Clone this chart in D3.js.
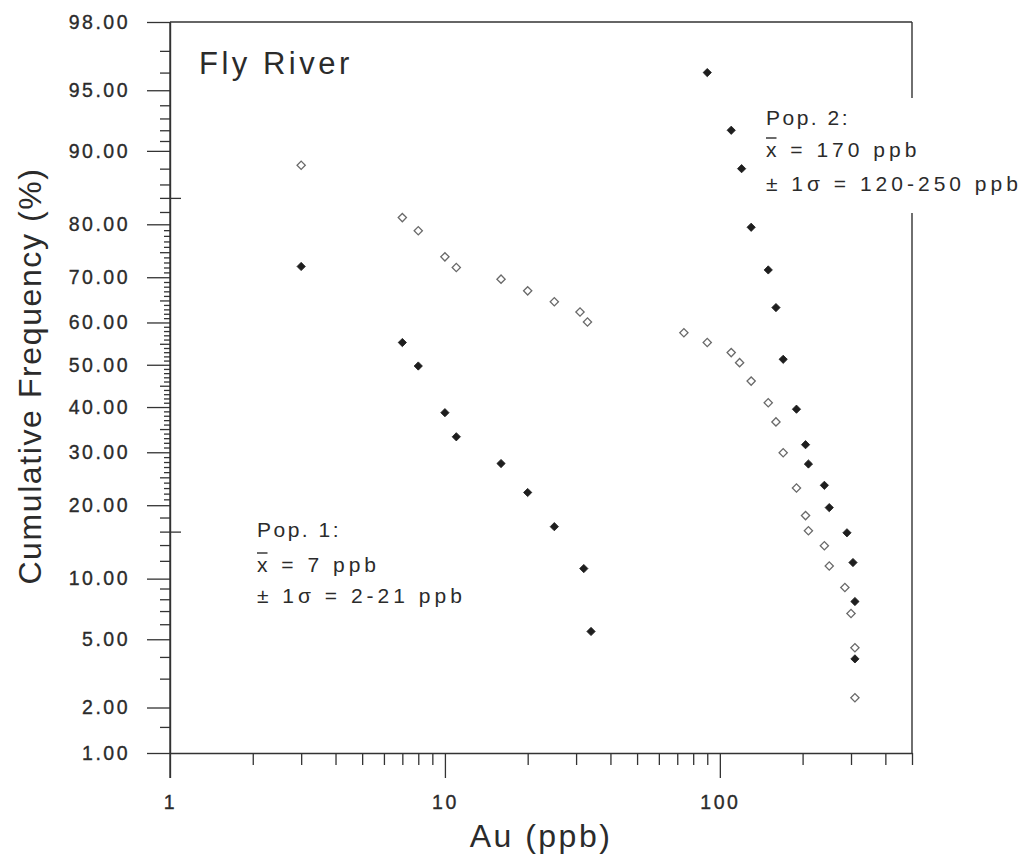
<!DOCTYPE html>
<html>
<head>
<meta charset="utf-8">
<script src="https://cdn.jsdelivr.net/npm/d3@7"></script>
<style>
  html, body { margin: 0; padding: 0; background: #fff; }
  svg { display: block; font-family: "Liberation Sans", Arial, Helvetica, sans-serif; }
</style>
</head>
<body>
<svg id="chart" width="1031" height="860"></svg>
<script>
// ---- Data: Au in stream sediments, Fly River (cumulative frequency, %) ----
// Raw cumulative distribution (open symbols)
const rawAu  = [3, 7, 8, 10, 11, 16, 20, 25, 31, 33, 74, 90, 110, 118, 130, 150, 160, 170, 190, 205, 210, 240, 250, 285, 300, 310, 310];
const rawCum = [88.4, 81.1, 78.9, 74.1, 72.0, 69.6, 67.1, 64.7, 62.4, 60.1, 57.6, 55.3, 52.9, 50.5, 46.1, 41.0, 36.6, 29.9, 23.0, 18.3, 16.0, 13.9, 11.4, 9.1, 6.8, 4.5, 2.3];
// Partitioned population 1 (filled symbols, low values)
const pop1Au  = [3, 7, 8, 10, 11, 16, 20, 25, 32, 34];
const pop1Cum = [72.2, 55.3, 49.7, 38.7, 33.3, 27.7, 22.2, 16.6, 11.1, 5.5];
// Partitioned population 2 (filled symbols, high values)
const pop2Au  = [90, 110, 120, 130, 150, 160, 170, 190, 205, 210, 240, 250, 290, 305, 310, 310];
const pop2Cum = [96.0, 92.0, 88.0, 79.5, 71.5, 63.4, 51.3, 39.5, 31.6, 27.6, 23.5, 19.6, 15.7, 11.8, 7.8, 3.9];

// ---- Axis ticks ----
const yMajorTicks = [1, 2, 5, 10, 20, 30, 40, 50, 60, 70, 80, 90, 95, 98];
const yMinorTicks = [1.5, 3, 4, 6, 7, 8, 9, 12, 14, 18, 82, 86, 88, 91, 92, 93, 94, 96, 97];
const yFineTicks = [21, 22, 23, 24, 25, 26, 27, 28, 29,
                    31, 32, 33, 34, 35, 36, 37, 38, 39,
                    41, 42, 43, 44, 45, 46, 47, 48, 49,
                    51, 52, 53, 54, 55, 56, 57, 58, 59,
                    61, 62, 63, 64, 65, 66, 67, 68, 69,
                    71, 72, 73, 74, 75, 76, 77, 78, 79];
const ySigmaTicks = [15.87, 84.13];
const xMajorTicks = [1, 10, 100];
const xMinorTicks = [2, 3, 4, 5, 6, 7, 8, 9, 20, 30, 40, 50, 60, 70, 80, 90, 200, 300, 400, 500];

// ---- Annotations ----
const titleText = "Fly River";
const xTitle = "Au (ppb)";
const yTitle = "Cumulative Frequency (%)";
const pop1Lines = ["Pop. 1:", "= 7 ppb", "1σ = 2-21 ppb"];
const pop2Lines = ["Pop. 2:", "= 170 ppb", "1σ = 120-250 ppb"];

// Inverse of the standard normal CDF (Acklam's rational approximation)
function probit(p) {
  const a = [-3.969683028665376e+01, 2.209460984245205e+02, -2.759285104469687e+02, 1.383577518672690e+02, -3.066479806614716e+01, 2.506628277459239e+00];
  const b = [-5.447609879822406e+01, 1.615858368580409e+02, -1.556989798598866e+02, 6.680131188771972e+01, -1.328068155288572e+01];
  const c = [-7.784894002430293e-03, -3.223964580411365e-01, -2.400758277161838e+00, -2.549732539343734e+00, 4.374664141464968e+00, 2.938163982698783e+00];
  const d = [7.784695709041462e-03, 3.224671290700398e-01, 2.445134137142996e+00, 3.754408661907416e+00];
  const plow = 0.02425, phigh = 1 - plow;
  let q, r;
  if (p < plow) {
    q = Math.sqrt(-2 * Math.log(p));
    return (((((c[0]*q + c[1])*q + c[2])*q + c[3])*q + c[4])*q + c[5]) /
           ((((d[0]*q + d[1])*q + d[2])*q + d[3])*q + 1);
  } else if (p <= phigh) {
    q = p - 0.5; r = q * q;
    return (((((a[0]*r + a[1])*r + a[2])*r + a[3])*r + a[4])*r + a[5])*q /
           (((((b[0]*r + b[1])*r + b[2])*r + b[3])*r + b[4])*r + 1);
  } else {
    q = Math.sqrt(-2 * Math.log(1 - p));
    return -(((((c[0]*q + c[1])*q + c[2])*q + c[3])*q + c[4])*q + c[5]) /
            ((((d[0]*q + d[1])*q + d[2])*q + d[3])*q + 1);
  }
}

const ink = "#2b2b2b";
const lineInk = "#333";
const plotLeft = 170, plotRight = 912, plotTop = 22, plotBottom = 753;

const svg = d3.select("#chart");

// Log scale for Au, probability (probit) scale for cumulative frequency
const x = d3.scaleLog().domain([1, 500]).range([plotLeft, plotRight]);
const yz = d3.scaleLinear().domain([probit(0.01), probit(0.98)]).range([plotBottom, plotTop]);
const z = p => probit(p / 100);
const y = p => yz(z(p));

function styleAxis(g) {
  g.attr("font-size", 19.5).attr("font-family", null);
  g.selectAll("path.domain").attr("stroke", lineInk).attr("stroke-width", 1.4);
  g.selectAll(".tick line").attr("stroke", lineInk).attr("stroke-width", 1.3);
  g.selectAll(".tick text")
    .attr("fill", ink).attr("stroke", ink).attr("stroke-width", 0.35)
    .style("font-size", "19.5px").style("letter-spacing", "2.5px");
}

// Y axis: minor ticks first, then the labelled major ticks
svg.append("g").attr("transform", `translate(${plotLeft},0)`)
  .call(d3.axisLeft(yz).tickValues(yFineTicks.map(z)).tickSize(6).tickFormat(""))
  .call(styleAxis)
  .call(g => g.select(".domain").remove())
  .selectAll(".tick line").attr("x2", (d, i) => (yFineTicks[i] % 5 === 0 ? -10 : -6));

svg.append("g").attr("transform", `translate(${plotLeft},0)`)
  .call(d3.axisLeft(yz).tickValues(yMinorTicks.map(z)).tickSize(10).tickFormat(""))
  .call(styleAxis)
  .call(g => g.select(".domain").remove());

// ±1 sigma marks cross the axis
svg.append("g").attr("transform", `translate(${plotLeft},0)`)
  .call(d3.axisLeft(yz).tickValues(ySigmaTicks.map(z)).tickSize(10).tickFormat(""))
  .call(styleAxis)
  .call(g => g.select(".domain").remove())
  .selectAll(".tick line").attr("x1", 11);

svg.append("g").attr("transform", `translate(${plotLeft},0)`)
  .call(d3.axisLeft(yz).tickValues(yMajorTicks.map(z)).tickSize(23).tickSizeOuter(0).tickPadding(17)
    .tickFormat((d, i) => d3.format(".2f")(yMajorTicks[i])))
  .call(styleAxis);

// X axis
svg.append("g").attr("transform", `translate(0,${plotBottom})`)
  .call(d3.axisBottom(x).tickValues(xMinorTicks).tickSize(12).tickFormat(""))
  .call(styleAxis)
  .call(g => g.select(".domain").remove());

svg.append("g").attr("transform", `translate(0,${plotBottom})`)
  .call(d3.axisBottom(x).tickValues(xMajorTicks).tickSize(25).tickSizeOuter(0).tickPadding(17)
    .tickFormat(d3.format("d")))
  .call(styleAxis);

// Left axis runs down to the tick at 1 ppb
svg.append("line").attr("x1", plotLeft).attr("x2", plotLeft).attr("y1", plotTop).attr("y2", plotBottom + 25)
  .attr("stroke", lineInk).attr("stroke-width", 1.4);

// Top and right frame
svg.append("line").attr("x1", plotLeft).attr("x2", plotRight).attr("y1", plotTop).attr("y2", plotTop)
  .attr("stroke", lineInk).attr("stroke-width", 1.4);
svg.append("line").attr("x1", plotRight).attr("x2", plotRight).attr("y1", plotTop).attr("y2", plotBottom)
  .attr("stroke", lineInk).attr("stroke-width", 1.4);

// ---- Points ----
const diamond = d3.symbol().type(d3.symbolSquare).size(34);

const rawData = rawAu.map((v, i) => ({ au: v, cum: rawCum[i] }));
const popData = pop1Au.map((v, i) => ({ au: v, cum: pop1Cum[i] }))
  .concat(pop2Au.map((v, i) => ({ au: v, cum: pop2Cum[i] })));

svg.append("g").selectAll("path").data(rawData).join("path")
  .attr("d", diamond)
  .attr("transform", d => `translate(${x(d.au)},${y(d.cum)}) rotate(45)`)
  .attr("fill", "#fff").attr("stroke", "#6a6a6a").attr("stroke-width", 1.3);

svg.append("g").selectAll("path").data(popData).join("path")
  .attr("d", diamond)
  .attr("transform", d => `translate(${x(d.au)},${y(d.cum)}) rotate(45)`)
  .attr("fill", "#1e1e1e").attr("stroke", "#1e1e1e").attr("stroke-width", 0.8);

// ---- Titles ----
svg.append("text").attr("x", 199).attr("y", 74)
  .attr("fill", ink).style("font-size", "31px").style("letter-spacing", "3.5px")
  .text(titleText);

svg.append("text").attr("x", 541).attr("y", 847).attr("text-anchor", "middle")
  .attr("fill", ink).style("font-size", "32px").style("letter-spacing", "2.5px")
  .text(xTitle);

svg.append("text").attr("transform", "translate(41,376) rotate(-90)").attr("text-anchor", "middle")
  .attr("fill", ink).style("font-size", "32px").style("letter-spacing", "1.6px")
  .text(yTitle);

// ---- Population annotations ----
function popLabel(x0, baselines, lines, blank) {
  const g = svg.append("g");
  const bg = g.append("rect").attr("fill", "#fff");
  const t = g.append("g").attr("fill", ink).style("font-size", "21px");
  t.append("text").attr("x", x0).attr("y", baselines[0])
    .style("letter-spacing", "2.5px").text(lines[0]);
  const m = t.append("text").attr("x", x0).attr("y", baselines[1])
    .style("letter-spacing", "4px")
    .text("x " + lines[1]);
  t.append("text").attr("x", x0).attr("y", baselines[2])
    .style("letter-spacing", "4px")
    .text("± " + lines[2]);
  // bar over the mean symbol, as wide as the x glyph
  const ext = m.node().getExtentOfChar(0);
  t.append("line")
    .attr("x1", ext.x).attr("x2", ext.x + 10.5)
    .attr("y1", baselines[1] - 19).attr("y2", baselines[1] - 19)
    .attr("stroke", ink).attr("stroke-width", 1.4);
  if (blank) {
    const bb = t.node().getBBox();
    bg.attr("x", bb.x - 6).attr("y", bb.y - 8).attr("width", bb.width + 12).attr("height", bb.height + 26);
  }
}

popLabel(257, [537, 572, 603], pop1Lines, false);
popLabel(766, [125, 157, 191], pop2Lines, true);
</script>
</body>
</html>
